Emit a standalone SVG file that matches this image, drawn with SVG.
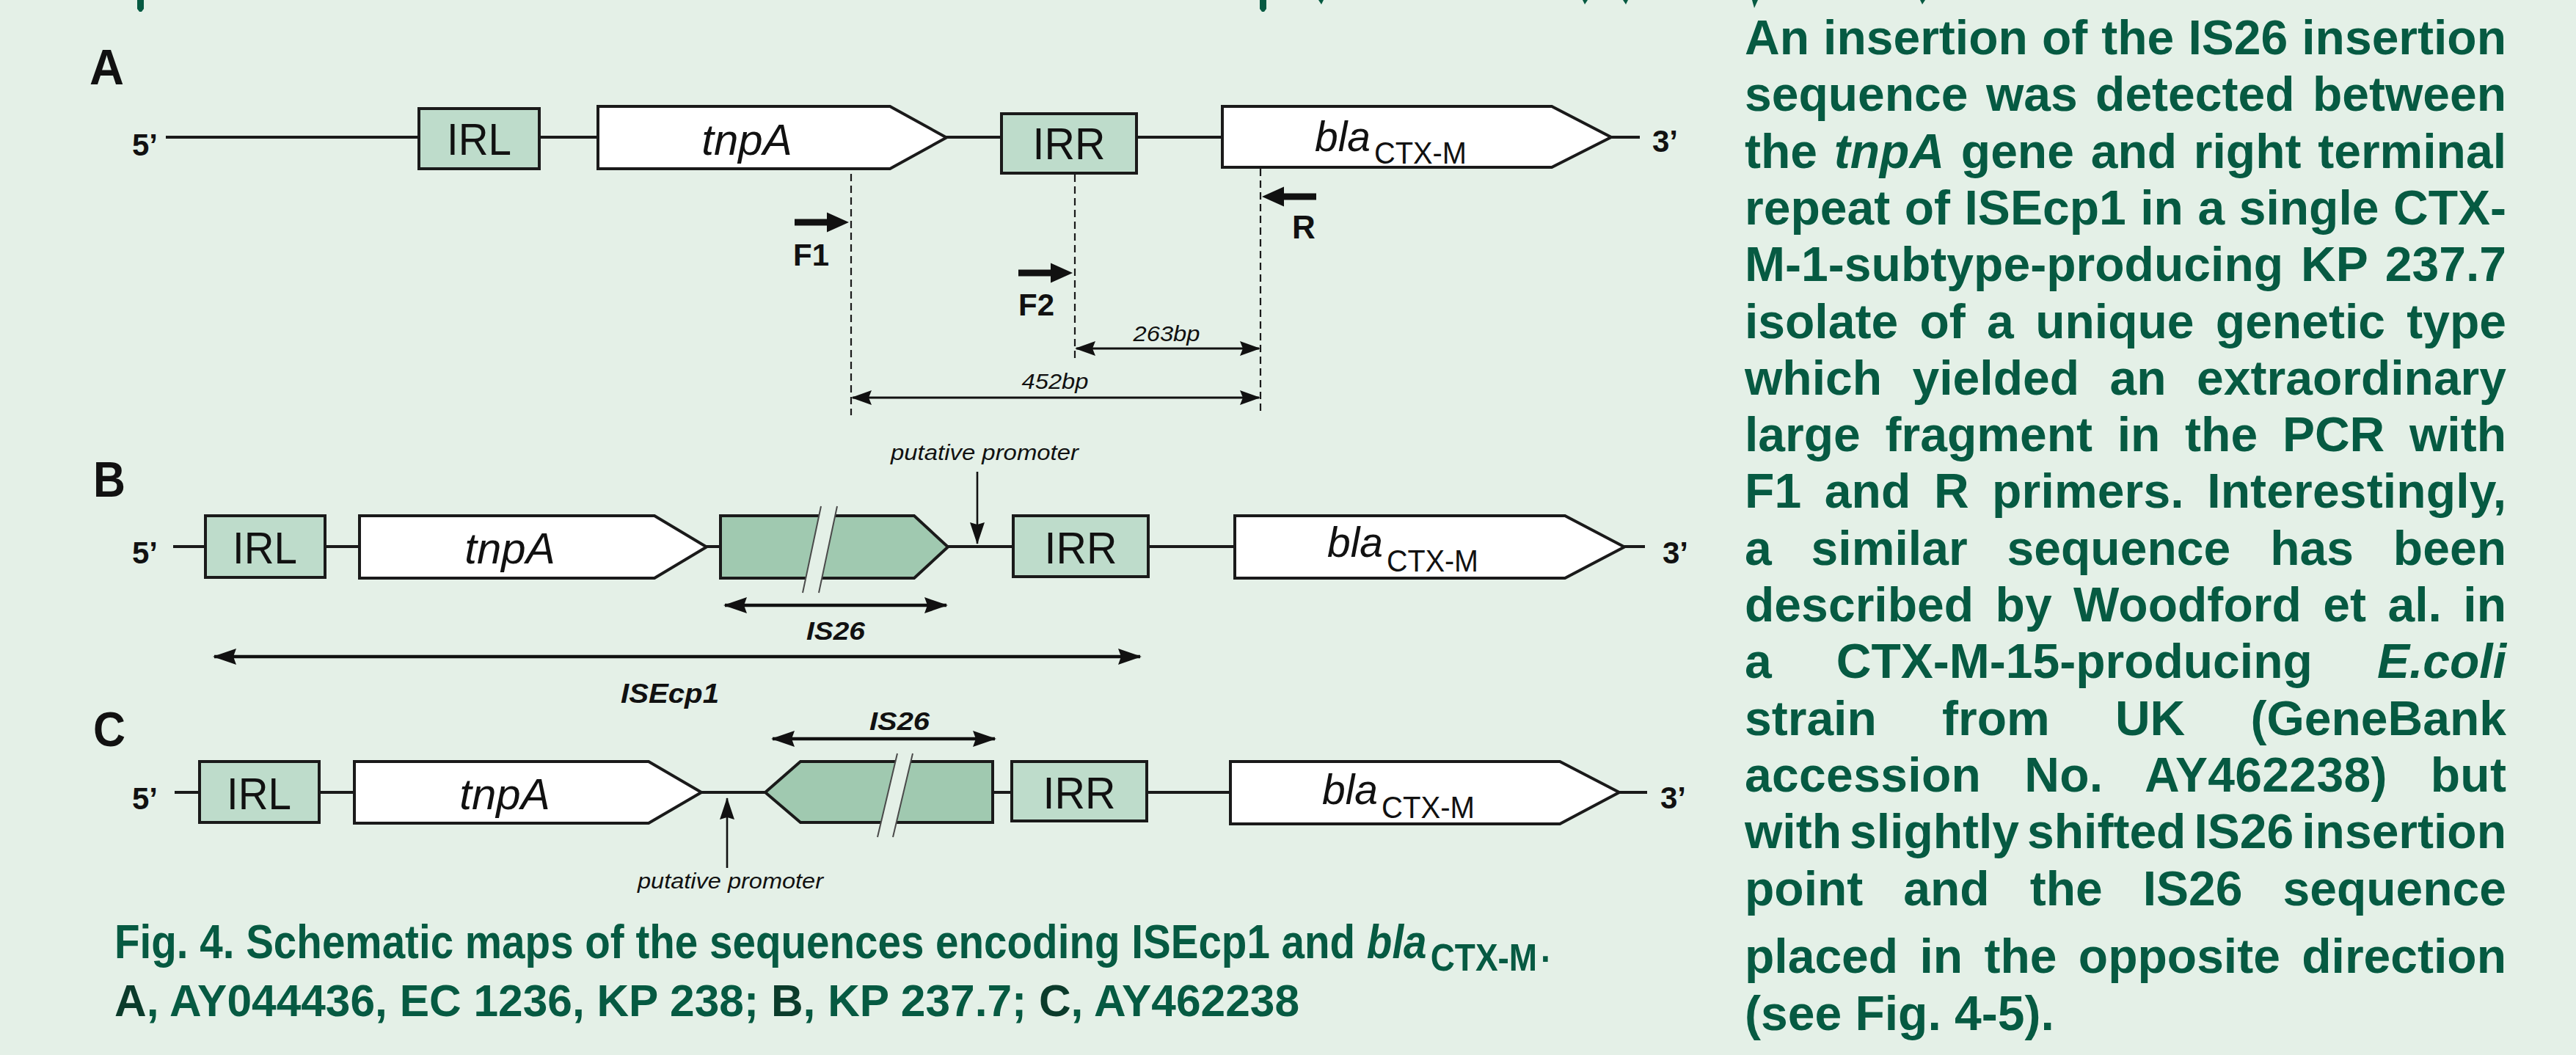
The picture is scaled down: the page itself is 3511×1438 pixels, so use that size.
<svg xmlns="http://www.w3.org/2000/svg" width="3511" height="1438" viewBox="0 0 3511 1438">
  <defs>
    <style>
      .bg{fill:#e4f0e7}
      .bb{stroke:#1a1a1a;stroke-width:4;fill:none}
      .ir{fill:#bedccb;stroke:#1a1a1a;stroke-width:4}
      .gene{fill:#ffffff;stroke:#1a1a1a;stroke-width:4;stroke-linejoin:miter}
      .is{fill:#a0c9b0;stroke:#1a1a1a;stroke-width:4;stroke-linejoin:miter}
      .brk{fill:#e4f0e7;stroke:none}
      .brkl{stroke:#4a4a4a;stroke-width:2;fill:none}
      .dash{stroke:#1a1a1a;stroke-width:2.2;stroke-dasharray:10 6;fill:none}
      .dim{stroke:#111;stroke-width:4.5;fill:none}
      .dims{stroke:#111;stroke-width:3.2;fill:none}
      .pro{stroke:#111;stroke-width:2.6;fill:none}
      .primer{fill:#111}
      .lbl{font-family:"Liberation Sans",Arial,sans-serif;font-weight:bold;fill:#111}
      .box{font-family:"Liberation Sans",Arial,sans-serif;font-size:62px;fill:#111;text-anchor:middle}
      .gn{font-family:"Liberation Sans",Arial,sans-serif;font-style:italic;fill:#111}
      .sub{font-family:"Liberation Sans",Arial,sans-serif;font-size:43px;fill:#111}
      .isl{font-family:"Liberation Sans",Arial,sans-serif;font-style:italic;font-weight:bold;fill:#111}
      .note{font-family:"Liberation Sans",Arial,sans-serif;font-style:italic;font-size:30px;fill:#111}
      .body{font-family:"Liberation Sans",Arial,sans-serif;font-weight:bold;font-size:66px;fill:#065a42}
      .cap{font-family:"Liberation Sans",Arial,sans-serif;font-weight:bold;fill:#065a42}
      .dk{fill:#0b3b2b}
      .frag{fill:#065a42}
    </style>
    <marker id="head" viewBox="0 0 32 22" refX="30" refY="11" markerWidth="32" markerHeight="22" markerUnits="userSpaceOnUse" orient="auto-start-reverse">
      <path d="M0,0 L32,11 L0,22 L4,11 Z" fill="#111"/>
    </marker>
    <marker id="headS" viewBox="0 0 28 20" refX="26" refY="10" markerWidth="28" markerHeight="20" markerUnits="userSpaceOnUse" orient="auto-start-reverse">
      <path d="M0,0 L28,10 L0,20 L4,10 Z" fill="#111"/>
    </marker>
    <marker id="headP" viewBox="0 0 30 20" refX="29" refY="10" markerWidth="30" markerHeight="20" markerUnits="userSpaceOnUse" orient="auto">
      <path d="M0,0 L30,10 L0,20 L3,10 Z" fill="#111"/>
    </marker>
    <path id="primer" d="M0,-4.5 H44 V-13.5 L74,0 L44,13.5 V4.5 H0 Z"/>
  </defs>

  <rect class="bg" x="0" y="0" width="3511" height="1438"/>

  <!-- descenders of the running text line cut by the top edge -->
  <g id="top-edge">
    <path class="frag" d="M187,0 H196 V12 L193,16 H190 L187,12 Z"/>
    <path class="frag" d="M1717,0 H1726 V12 L1723,16 H1720 L1717,12 Z"/>
    <path class="frag" d="M1797,0 H1804 L1801,6 Z"/>
    <path class="frag" d="M2157,0 H2164 L2160,6 Z"/>
    <path class="frag" d="M2212,0 H2219 L2216,6 Z"/>
    <path class="frag" d="M2388,0 H2396 L2391,11 Z"/>
    <path class="frag" d="M2617,0 H2624 L2620,6 Z"/>
  </g>

  <!-- connectors: backbones, dashed guides, size bars, promoter pointers -->
  <g id="connectors">
    <line class="bb" x1="226" y1="187" x2="2235" y2="187"/>
    <line class="bb" x1="236" y1="745" x2="2242" y2="745"/>
    <line class="bb" x1="238" y1="1080" x2="2245" y2="1080"/>

    <line class="dash" x1="1160" y1="237" x2="1160" y2="566"/>
    <line class="dash" x1="1465" y1="238" x2="1465" y2="490"/>
    <line class="dash" x1="1718" y1="230" x2="1718" y2="566"/>

    <line class="dims" x1="1467" y1="475" x2="1716" y2="475" marker-start="url(#headS)" marker-end="url(#headS)"/>
    <line class="dims" x1="1162" y1="542" x2="1716" y2="542" marker-start="url(#headS)" marker-end="url(#headS)"/>

    <line class="dim" x1="988" y1="825" x2="1290" y2="825" marker-start="url(#head)" marker-end="url(#head)"/>
    <line class="dim" x1="292" y1="895" x2="1554" y2="895" marker-start="url(#head)" marker-end="url(#head)"/>
    <line class="dim" x1="1053" y1="1007" x2="1356" y2="1007" marker-start="url(#head)" marker-end="url(#head)"/>

    <line class="pro" x1="1332" y1="643" x2="1332" y2="741" marker-end="url(#headP)"/>
    <line class="pro" x1="991" y1="1183" x2="991" y2="1088" marker-end="url(#headP)"/>
  </g>

  <!-- map A -->
  <g id="a-label"><text class="lbl" x="122" y="115" font-size="68" textLength="47" lengthAdjust="spacingAndGlyphs">A</text></g>
  <g id="a-5"><text class="lbl" x="180" y="212" font-size="42">5’</text></g>
  <g id="a-irl">
    <rect class="ir" x="571" y="148" width="164" height="82"/>
    <text class="box" x="653" y="211" textLength="88" lengthAdjust="spacingAndGlyphs">IRL</text>
  </g>
  <g id="a-tnpa">
    <path class="gene" d="M815,145 H1213 L1290,187.5 L1213,230 H815 Z"/>
    <text class="gn" x="1018" y="211" font-size="60" text-anchor="middle">tnpA</text>
  </g>
  <g id="a-irr">
    <rect class="ir" x="1365" y="155" width="184" height="81"/>
    <text class="box" x="1457" y="217" textLength="99" lengthAdjust="spacingAndGlyphs">IRR</text>
  </g>
  <g id="a-bla">
    <path class="gene" d="M1666,145 H2115 L2196,187 L2115,228 H1666 Z"/>
    <text class="gn" x="1792" y="206" font-size="57">bla</text>
    <text class="sub" x="1873" y="223" textLength="126" lengthAdjust="spacingAndGlyphs">CTX-M</text>
  </g>
  <g id="a-3"><text class="lbl" x="2252" y="207" font-size="42">3’</text></g>
  <g id="a-f1">
    <use class="primer" href="#primer" transform="translate(1083,303)"/>
    <text class="lbl" x="1081" y="362" font-size="42">F1</text>
  </g>
  <g id="a-f2">
    <use class="primer" href="#primer" transform="translate(1388,372)"/>
    <text class="lbl" x="1388" y="430" font-size="42">F2</text>
  </g>
  <g id="a-r">
    <use class="primer" href="#primer" transform="translate(1794,268) scale(-1,1)"/>
    <text class="lbl" x="1761" y="325" font-size="44">R</text>
  </g>
  <g id="a-263">
    <text class="gn" x="1590" y="465" font-size="29" text-anchor="middle" textLength="91" lengthAdjust="spacingAndGlyphs">263bp</text>
  </g>
  <g id="a-452">
    <text class="gn" x="1438" y="530" font-size="29" text-anchor="middle" textLength="91" lengthAdjust="spacingAndGlyphs">452bp</text>
  </g>

  <!-- map B -->
  <g id="b-label"><text class="lbl" x="127" y="677" font-size="68" textLength="44" lengthAdjust="spacingAndGlyphs">B</text></g>
  <g id="b-5"><text class="lbl" x="180" y="768" font-size="42">5’</text></g>
  <g id="b-irl">
    <rect class="ir" x="280" y="703" width="163" height="84"/>
    <text class="box" x="361" y="768" textLength="88" lengthAdjust="spacingAndGlyphs">IRL</text>
  </g>
  <g id="b-tnpa">
    <path class="gene" d="M490,703 H892 L963,745.5 L892,788 H490 Z"/>
    <text class="gn" x="695" y="768" font-size="60" text-anchor="middle">tnpA</text>
  </g>
  <g id="b-is26">
    <path class="is" d="M982,703 H1246 L1292,745.5 L1246,788 H982 Z"/>
    <polygon class="brk" points="1119,690 1141,690 1116,808 1094,808"/>
    <line class="brkl" x1="1119" y1="690" x2="1094" y2="808"/>
    <line class="brkl" x1="1141" y1="690" x2="1116" y2="808"/>
    <text class="isl" x="1099" y="872" font-size="35" textLength="80" lengthAdjust="spacingAndGlyphs">IS26</text>
  </g>
  <g id="b-promoter">
    <text class="note" x="1214" y="627" textLength="256" lengthAdjust="spacingAndGlyphs">putative promoter</text>
  </g>
  <g id="b-irr">
    <rect class="ir" x="1381" y="703" width="184" height="83"/>
    <text class="box" x="1473" y="768" textLength="99" lengthAdjust="spacingAndGlyphs">IRR</text>
  </g>
  <g id="b-bla">
    <path class="gene" d="M1683,703 H2133 L2214,745.5 L2133,788 H1683 Z"/>
    <text class="gn" x="1809" y="759" font-size="57">bla</text>
    <text class="sub" x="1890" y="779" textLength="125" lengthAdjust="spacingAndGlyphs">CTX-M</text>
  </g>
  <g id="b-3"><text class="lbl" x="2266" y="768" font-size="42">3’</text></g>
  <g id="b-isecp1">
    <text class="isl" x="846" y="958" font-size="36" textLength="134" lengthAdjust="spacingAndGlyphs">ISEcp1</text>
  </g>

  <!-- map C -->
  <g id="c-label"><text class="lbl" x="127" y="1017" font-size="66" textLength="44" lengthAdjust="spacingAndGlyphs">C</text></g>
  <g id="c-5"><text class="lbl" x="180" y="1103" font-size="42">5’</text></g>
  <g id="c-irl">
    <rect class="ir" x="272" y="1038" width="163" height="83"/>
    <text class="box" x="353" y="1103" textLength="88" lengthAdjust="spacingAndGlyphs">IRL</text>
  </g>
  <g id="c-tnpa">
    <path class="gene" d="M483,1038 H884 L956,1080 L884,1122 H483 Z"/>
    <text class="gn" x="688" y="1103" font-size="60" text-anchor="middle">tnpA</text>
  </g>
  <g id="c-promoter">
    <text class="note" x="869" y="1211" textLength="253" lengthAdjust="spacingAndGlyphs">putative promoter</text>
  </g>
  <g id="c-is26">
    <path class="is" d="M1043,1080 L1091,1038 H1353 V1121 H1091 Z"/>
    <polygon class="brk" points="1223,1027 1244,1027 1217,1141 1196,1141"/>
    <line class="brkl" x1="1223" y1="1027" x2="1196" y2="1141"/>
    <line class="brkl" x1="1244" y1="1027" x2="1217" y2="1141"/>
    <text class="isl" x="1185" y="995" font-size="35" textLength="82" lengthAdjust="spacingAndGlyphs">IS26</text>
  </g>
  <g id="c-irr">
    <rect class="ir" x="1379" y="1038" width="184" height="81"/>
    <text class="box" x="1471" y="1102" textLength="99" lengthAdjust="spacingAndGlyphs">IRR</text>
  </g>
  <g id="c-bla">
    <path class="gene" d="M1677,1038 H2126 L2207,1080 L2126,1123 H1677 Z"/>
    <text class="gn" x="1802" y="1096" font-size="57">bla</text>
    <text class="sub" x="1883" y="1115" textLength="127" lengthAdjust="spacingAndGlyphs">CTX-M</text>
  </g>
  <g id="c-3"><text class="lbl" x="2263" y="1102" font-size="42">3’</text></g>

  <!-- figure caption, set in a horizontally narrowed face -->
  <g id="caption">
    <g transform="translate(156,1306) scale(0.884,1)">
      <text class="cap" x="0" y="0" font-size="64">Fig. 4. Schematic maps of the sequences encoding ISEcp1 and <tspan font-style="italic">bla</tspan></text>
      <text class="cap" x="2029" y="17" font-size="52">CTX-M</text>
      <text class="cap" x="2199" y="5" font-size="52">.</text>
    </g>
    <g transform="translate(156,1385) scale(0.975,1)">
      <text class="cap" x="0" y="0" font-size="62"><tspan class="dk">A</tspan>, AY044436, EC 1236, KP 238; <tspan class="dk">B</tspan>, KP 237.7; <tspan class="dk">C</tspan>, AY462238</text>
    </g>
  </g>

  <!-- justified side column -->
  <g id="side-text" class="body">
    <text x="2378" y="74" word-spacing="0.75" textLength="1038" lengthAdjust="spacing">An insertion of the IS26 insertion</text>
    <text x="2378" y="151" word-spacing="6.1" textLength="1038" lengthAdjust="spacing">sequence was detected between</text>
    <text x="2378" y="229" word-spacing="4.4" textLength="1038" lengthAdjust="spacing">the <tspan font-style="italic">tnpA</tspan> gene and right terminal</text>
    <text x="2378" y="306" word-spacing="1.2" textLength="1038" lengthAdjust="spacing">repeat of ISEcp1 in a single CTX-</text>
    <text x="2378" y="383" word-spacing="5.6" textLength="1038" lengthAdjust="spacing">M-1-subtype-producing KP 237.7</text>
    <text x="2378" y="461" word-spacing="11" textLength="1038" lengthAdjust="spacing">isolate of a unique genetic type</text>
    <text x="2378" y="538" word-spacing="23.2" textLength="1038" lengthAdjust="spacing">which yielded an extraordinary</text>
    <text x="2378" y="615" word-spacing="15.4" textLength="1038" lengthAdjust="spacing">large fragment in the PCR with</text>
    <text x="2378" y="692" word-spacing="12.9" textLength="1038" lengthAdjust="spacing">F1 and R primers. Interestingly,</text>
    <text x="2378" y="770" word-spacing="35.5" textLength="1038" lengthAdjust="spacing">a similar sequence has been</text>
    <text x="2378" y="847" word-spacing="11" textLength="1038" lengthAdjust="spacing">described by Woodford et al. in</text>
    <text x="2378" y="924" word-spacing="69.8" textLength="1038" lengthAdjust="spacing">a CTX-M-15-producing <tspan font-style="italic">E.coli</tspan></text>
    <text x="2378" y="1002" word-spacing="70.9" textLength="1038" lengthAdjust="spacing">strain from UK (GeneBank</text>
    <text x="2378" y="1079" word-spacing="40.3" textLength="1038" lengthAdjust="spacing">accession No. AY462238) but</text>
    <text x="2378" y="1156" word-spacing="-7.3" textLength="1038" lengthAdjust="spacing">with slightly shifted IS26 insertion</text>
    <text x="2378" y="1234" word-spacing="36.7" textLength="1038" lengthAdjust="spacing">point and the IS26 sequence</text>
    <text x="2378" y="1326" word-spacing="11" textLength="1038" lengthAdjust="spacing">placed in the opposite direction</text>
    <text x="2378" y="1404">(see Fig. 4-5).</text>
  </g>
</svg>
